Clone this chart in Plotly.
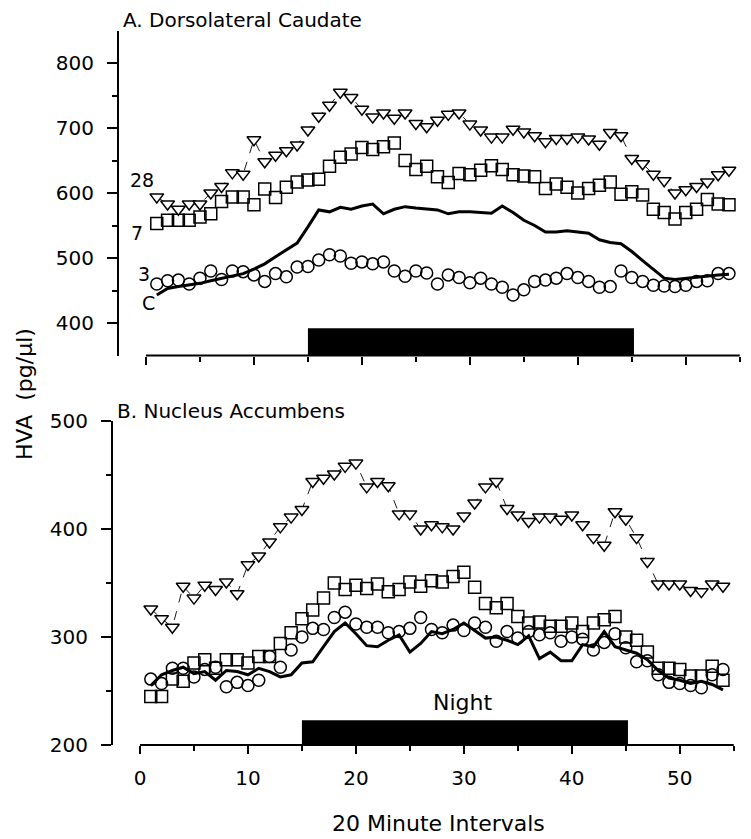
import plotly.graph_objs as go

FONT = "DejaVu Sans, Verdana, sans-serif"
# page body keeps an 8px margin, so the figure is drawn 8px in
OFF = 8
W, H = 751 - OFF, 839 - OFF

intervals = list(range(1, 55))

# A. Dorsolateral Caudate
caudate_28 = [594, 583, 575, 583, 583, 600, 610, 631, 629, 682, 648, 658, 665, 674, 697, 718, 735, 755,
              747, 729, 717, 723, 715, 723, 707, 702, 712, 721, 723, 706, 697, 686, 686, 698, 694, 688, 679,
              684, 684, 686, 683, 675, 693, 688, 653, 645, 629, 619, 600, 605, 610, 617, 628, 635]
caudate_7 = [553, 558, 558, 558, 563, 568, 587, 594, 594, 582, 606, 593, 609, 617, 620, 621, 641, 655,
             660, 670, 667, 671, 677, 650, 636, 641, 625, 616, 630, 628, 635, 642, 636, 628, 626, 625, 607,
             614, 609, 600, 607, 612, 617, 598, 602, 597, 575, 570, 560, 570, 575, 590, 583, 582]
caudate_3 = [460, 465, 466, 460, 469, 480, 467, 480, 479, 474, 464, 476, 471, 486, 487, 497, 505, 503,
             492, 494, 491, 494, 480, 472, 480, 477, 460, 474, 470, 462, 469, 460, 455, 443, 451, 464, 466,
             469, 476, 470, 464, 455, 456, 480, 470, 464, 458, 457, 456, 458, 464, 465, 476, 476]
caudate_c = [443, 453, 456, 458, 461, 465, 469, 472, 476, 483, 491, 502, 513, 523, 548, 574, 571, 578,
             575, 580, 583, 568, 575, 579, 577, 576, 574, 568, 571, 571, 570, 569, 580, 570, 558, 550, 540,
             540, 542, 540, 538, 528, 524, 522, 510, 496, 482, 469, 467, 469, 471, 472, 474, 475]

# B. Nucleus Accumbens
accumbens_28 = [326, 317, 309, 347, 336, 348, 344, 351, 340, 367, 375, 388, 402, 411, 418, 444, 447, 451,
                458, 461, 439, 444, 440, 414, 414, 400, 404, 402, 400, 412, 424, 439, 444, 419, 413, 407, 411,
                411, 409, 413, 404, 392, 385, 416, 409, 392, 370, 349, 349, 349, 343, 342, 349, 347]
accumbens_7 = [245, 245, 261, 259, 276, 279, 271, 279, 279, 276, 282, 282, 294, 304, 317, 325, 336, 350,
               344, 348, 345, 349, 342, 344, 351, 347, 352, 351, 356, 360, 346, 331, 327, 331, 319, 313, 314,
               310, 310, 313, 305, 313, 316, 319, 300, 297, 286, 271, 271, 270, 264, 264, 273, 260]
accumbens_3 = [261, 257, 271, 271, 263, 270, 272, 254, 258, 255, 260, 282, 272, 288, 300, 308, 307, 318,
               323, 312, 309, 309, 304, 305, 308, 318, 307, 304, 311, 306, 313, 309, 296, 305, 299, 305, 302,
               304, 296, 300, 298, 288, 295, 303, 290, 277, 278, 265, 258, 257, 255, 253, 265, 270]
accumbens_c = [255, 265, 269, 272, 266, 268, 260, 269, 268, 265, 271, 268, 263, 265, 276, 277, 291, 305,
               313, 303, 292, 291, 297, 302, 286, 294, 305, 303, 307, 313, 306, 299, 300, 297, 293, 301, 280,
               286, 278, 278, 293, 291, 305, 291, 288, 285, 279, 269, 262, 260, 257, 259, 256, 251]

night_start, night_end = 15, 45.2
x_ticks = [0, 10, 20, 30, 40, 50]
x_minor = [5, 15, 25, 35, 45, 55]


def px_x(p):
    return (p - OFF) / W


def px_y(p):
    return 1 - (p - OFF) / H


def add_panel(fig, xa, ya, tri, sq, circ, line):
    # thin dashed line joining the triangles
    fig.add_trace(go.Scatter(
        x=intervals, y=tri, xaxis=xa, yaxis=ya, mode="lines",
        line=dict(color="black", width=0.9, dash="dash"), hoverinfo="skip"
    ))
    fig.add_trace(go.Scatter(
        x=intervals, y=line, xaxis=xa, yaxis=ya, mode="lines",
        line=dict(color="black", width=3), name="C"
    ))
    fig.add_trace(go.Scatter(
        x=intervals, y=circ, xaxis=xa, yaxis=ya, mode="markers", name="3",
        marker=dict(symbol="circle-open", size=12, color="black", line=dict(width=1.5, color="black"))
    ))
    fig.add_trace(go.Scatter(
        x=intervals, y=sq, xaxis=xa, yaxis=ya, mode="markers", name="7",
        marker=dict(symbol="square-open", size=12, color="black", line=dict(width=1.5, color="black"))
    ))
    fig.add_trace(go.Scatter(
        x=intervals, y=tri, xaxis=xa, yaxis=ya, mode="markers", name="28",
        marker=dict(symbol="triangle-down", size=12, color="white", line=dict(width=1.5, color="black"))
    ))


fig = go.Figure()
add_panel(fig, "x", "y", caudate_28, caudate_7, caudate_3, caudate_c)
add_panel(fig, "x2", "y2", accumbens_28, accumbens_7, accumbens_3, accumbens_c)

x_common = dict(
    range=[-2.5, 55.3], showgrid=False, zeroline=False, showline=False, automargin=False,
    ticks="outside", tickvals=x_ticks, ticklen=8, tickwidth=2, tickcolor="black",
    minor=dict(ticks="outside", tickvals=x_minor, ticklen=5, tickwidth=2, tickcolor="black"),
    tickfont=dict(family=FONT, size=20, color="black"), ticklabelstandoff=7,
)
y_common = dict(
    showgrid=False, zeroline=False, showline=True, linecolor="black", linewidth=2, automargin=False,
    ticks="outside", ticklen=10, tickwidth=2, tickcolor="black",
    tickfont=dict(family=FONT, size=20, color="black"), ticklabelstandoff=9,
)

fig.update_layout(
    width=W, height=H,
    margin=dict(l=0, r=0, t=0, b=0, pad=0, autoexpand=False),
    plot_bgcolor="white", paper_bgcolor="white",
    showlegend=False,
    font=dict(family=FONT, color="black"),
    xaxis=dict(domain=[px_x(119), px_x(743)], anchor="y", showticklabels=False, **x_common),
    yaxis=dict(domain=[px_y(355.5), px_y(30.5)], anchor="x", range=[350, 850],
               tickvals=[400, 500, 600, 700, 800],
               minor=dict(ticks="outside", tickvals=[450, 550, 650, 750], ticklen=5, tickwidth=2,
                          tickcolor="black"),
               **y_common),
    xaxis2=dict(domain=[px_x(113), px_x(737)], anchor="y2", showticklabels=True, **x_common),
    yaxis2=dict(domain=[px_y(745), px_y(421)], anchor="x2", range=[200, 500],
                tickvals=[200, 300, 400, 500],
                minor=dict(ticks="outside", tickvals=[250, 350, 450], ticklen=5, tickwidth=2,
                           tickcolor="black"),
                **y_common),
)

# detached x axis lines, night bars
for xr, yr, y0, y1 in [("x", "y", 350, 392), ("x2", "y2", 200, 223)]:
    fig.add_shape(type="line", xref=xr, yref=f"{yr} domain", x0=0, x1=55, y0=0, y1=0,
                  line=dict(color="black", width=2))
    fig.add_shape(type="rect", xref=xr, yref=yr, x0=night_start, x1=night_end, y0=y0, y1=y1,
                  fillcolor="black", line=dict(width=0))

texts = [
    ("A. Dorsolateral Caudate", 121, 20, 20, "left", 0),
    ("B. Nucleus Accumbens", 115, 411, 20, "left", 0),
    ("HVA  (pg/µl)", 24, 394, 22, "center", -90),
    ("20 Minute Intervals", 439, 823, 22, "center", 0),
    ("Night", 462, 702, 22, "center", 0),
    ("28", 142, 180, 19, "center", 0),
    ("7", 137, 233, 19, "center", 0),
    ("3", 144, 274, 19, "center", 0),
    ("C", 148, 303, 19, "center", 0),
]
for txt, x, y, size, anchor, angle in texts:
    fig.add_annotation(
        text=txt, x=px_x(x), y=px_y(y), xref="paper", yref="paper",
        xanchor=anchor, yanchor="middle", showarrow=False, textangle=angle,
        font=dict(family=FONT, size=size, color="black")
    )

fig.write_html("out.html")
